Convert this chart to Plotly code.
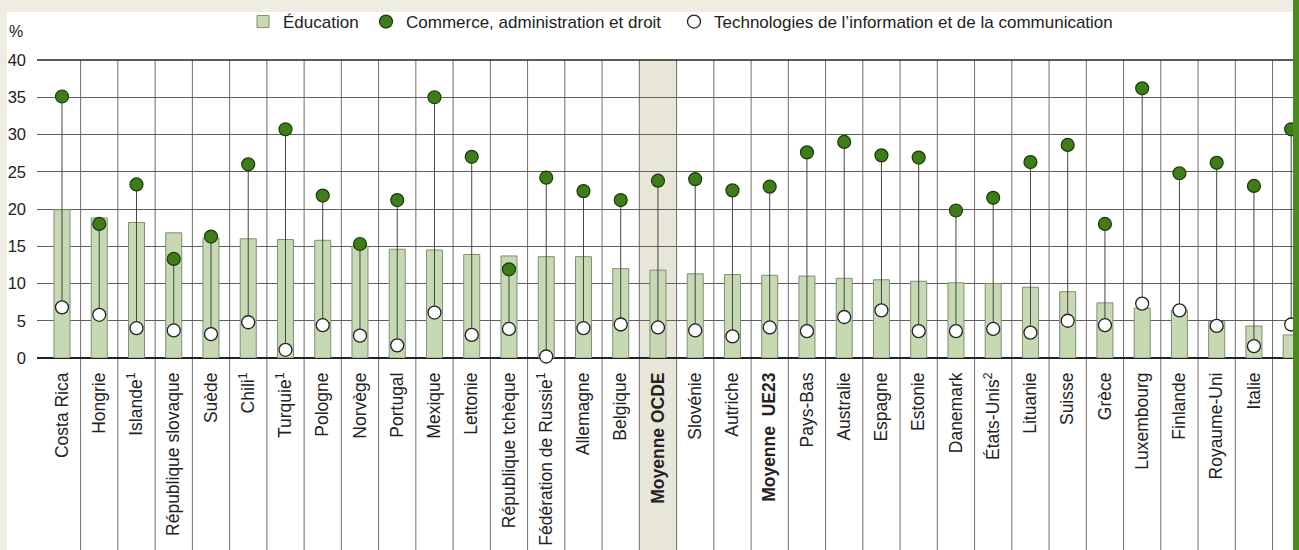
import plotly.graph_objects as go

# ---------------- data ----------------
countries = [
    "Costa Rica", "Hongrie", "Islande<sup>1</sup>", "République slovaque", "Suède",
    "Chili<sup>1</sup>", "Turquie<sup>1</sup>", "Pologne", "Norvège", "Portugal",
    "Mexique", "Lettonie", "République tchèque", "Fédération de Russie<sup>1</sup>",
    "Allemagne", "Belgique", "<b>Moyenne OCDE</b>", "Slovénie", "Autriche",
    "<b>Moyenne  UE23</b>", "Pays-Bas", "Australie", "Espagne", "Estonie", "Danemark",
    "États-Unis<sup>2</sup>", "Lituanie", "Suisse", "Grèce", "Luxembourg", "Finlande",
    "Royaume-Uni", "Italie", "France",
]
education = [19.9, 18.8, 18.2, 16.8, 16.1, 16.0, 15.9, 15.8, 15.0, 14.6,
             14.5, 13.9, 13.7, 13.6, 13.6, 12.0, 11.8, 11.3, 11.2, 11.1,
             11.0, 10.7, 10.5, 10.3, 10.1, 10.0, 9.5, 8.9, 7.4, 6.7,
             6.4, 4.9, 4.3, 3.1]
commerce = [35.1, 18.0, 23.3, 13.3, 16.3, 26.0, 30.7, 21.8, 15.3, 21.2,
            35.0, 27.0, 11.9, 24.2, 22.4, 21.2, 23.8, 24.0, 22.5, 23.0,
            27.6, 29.0, 27.2, 26.9, 19.8, 21.5, 26.3, 28.6, 18.0, 36.2,
            24.8, 26.2, 23.1, 30.7]
tic = [6.8, 5.8, 4.0, 3.7, 3.2, 4.8, 1.1, 4.4, 3.0, 1.7,
       6.1, 3.1, 3.9, 0.2, 4.0, 4.5, 4.1, 3.7, 2.9, 4.1,
       3.6, 5.5, 6.4, 3.6, 3.6, 3.9, 3.4, 5.0, 4.4, 7.3,
       6.4, 4.3, 1.6, 4.5]
highlight = "<b>Moyenne OCDE</b>"
y_ticks = [0, 5, 10, 15, 20, 25, 30, 35, 40]

legend_names = ["Éducation", "Commerce, administration et droit",
                "Technologies de l’information et de la communication"]

# ---------------- styling / geometry ----------------
W, H = 1299, 550
PL, PT, PB = 37, 60, 358          # plot area left / top / bottom (px)
PW, PH = W - PL, PB - PT
FONT = "Liberation Sans, Arial, sans-serif"
BEIGE = "#efece3"
HILITE = "#e8e5d9"
BAR_FILL = "#c6d9b3"
BAR_LINE = "#7f8f77"
DOT_GREEN = "#3e7d18"
DOT_EDGE = "#1e3a0c"
GRID = "#606060"


def px_x(px):
    return (px - PL) / PW


def px_y(py):
    return (PB - py) / PH


n = len(countries)
idx = list(range(n))

fig = go.Figure()

fig.add_trace(go.Bar(
    x=idx, y=education, name=legend_names[0], width=0.43,
    marker=dict(color=BAR_FILL, line=dict(color=BAR_LINE, width=1)),
    legend="legend",
))

# stems linking the two dots of each country
sx, sy = [], []
for i in idx:
    sx += [i, i, None]
    sy += [tic[i], commerce[i], None]
fig.add_trace(go.Scatter(
    x=sx, y=sy, mode="lines", line=dict(color="#444444", width=1),
    showlegend=False, hoverinfo="skip", cliponaxis=False,
))

fig.add_trace(go.Scatter(
    x=idx, y=commerce, mode="markers", name=legend_names[1],
    marker=dict(size=13, color=DOT_GREEN, line=dict(color=DOT_EDGE, width=1.2)),
    cliponaxis=False, legend="legend2",
))
fig.add_trace(go.Scatter(
    x=idx, y=tic, mode="markers", name=legend_names[2],
    marker=dict(size=13, color="white", line=dict(color="#222222", width=1.3)),
    cliponaxis=False, legend="legend3",
))

shapes = []
# white chart panel on beige page
shapes.append(dict(type="rect", xref="paper", yref="paper",
                   x0=px_x(7), x1=px_x(1293), y0=px_y(H), y1=px_y(12),
                   fillcolor="white", line=dict(width=0), layer="below"))
# highlighted OCDE column
hi = countries.index(highlight)
shapes.append(dict(type="rect", xref="x", yref="paper",
                   x0=hi - 0.5, x1=hi + 0.5, y0=px_y(H), y1=1,
                   fillcolor=HILITE, line=dict(width=0), layer="below"))
# vertical separators between categories (through label area)
for i in range(n):
    shapes.append(dict(type="line", xref="x", yref="paper",
                       x0=i + 0.5, x1=i + 0.5, y0=px_y(H), y1=1,
                       line=dict(color="#6e6e6e", width=1), layer="below"))
# darker frame line at the top of the plot
shapes.append(dict(type="line", xref="paper", yref="paper", x0=0, x1=1, y0=1, y1=1,
                   line=dict(color="#262626", width=1.3), layer="above"))
# green edge on the right
shapes.append(dict(type="rect", xref="paper", yref="paper",
                   x0=px_x(1293), x1=px_x(1300), y0=px_y(H + 2), y1=px_y(-2),
                   fillcolor="#4b8a1f", line=dict(width=0), layer="above"))

leg_common = dict(orientation="h", xanchor="left", yanchor="middle",
                  bgcolor="rgba(0,0,0,0)", font=dict(size=17, family=FONT), itemwidth=30)

fig.update_layout(
    width=W, height=H,
    margin=dict(l=PL, r=0, t=PT, b=H - PB, autoexpand=False),
    paper_bgcolor=BEIGE, plot_bgcolor="rgba(0,0,0,0)",
    font=dict(family=FONT, size=17, color="#222222"),
    shapes=shapes,
    showlegend=True,
    legend=dict(x=px_x(243), y=px_y(22), **leg_common),
    legend2=dict(x=px_x(366), y=px_y(22), **leg_common),
    legend3=dict(x=px_x(674), y=px_y(22), **leg_common),
    annotations=[dict(text="%", xref="paper", yref="paper", x=px_x(7), y=px_y(31),
                      xanchor="left", yanchor="middle", showarrow=False,
                      font=dict(size=16, family=FONT, color="#222222"))],
    hovermode=False,
)

fig.update_xaxes(
    range=[-0.671, 33.21], tickmode="array", tickvals=idx, ticktext=countries,
    tickangle=-90, tickfont=dict(size=17.5, family=FONT, color="#222222"), showgrid=False,
    zeroline=False, showline=False, ticks="", automargin=False,
    ticklabelstandoff=10,
)
fig.update_yaxes(
    range=[0, 40], tickmode="array", tickvals=y_ticks,
    tickfont=dict(size=16.5, family=FONT, color="#222222"), showgrid=True,
    gridcolor=GRID, gridwidth=1,
    zeroline=True, zerolinecolor="#222222", zerolinewidth=1.5,
    showline=False, ticks="", automargin=False, ticklabelstandoff=10,
)

fig.write_html(
    "out.html",
    config={"displayModeBar": False, "staticPlot": True},
    post_script="document.body.style.margin='0';"
                "document.body.style.background='#efece3';"
                "document.body.style.overflow='hidden';",
)
